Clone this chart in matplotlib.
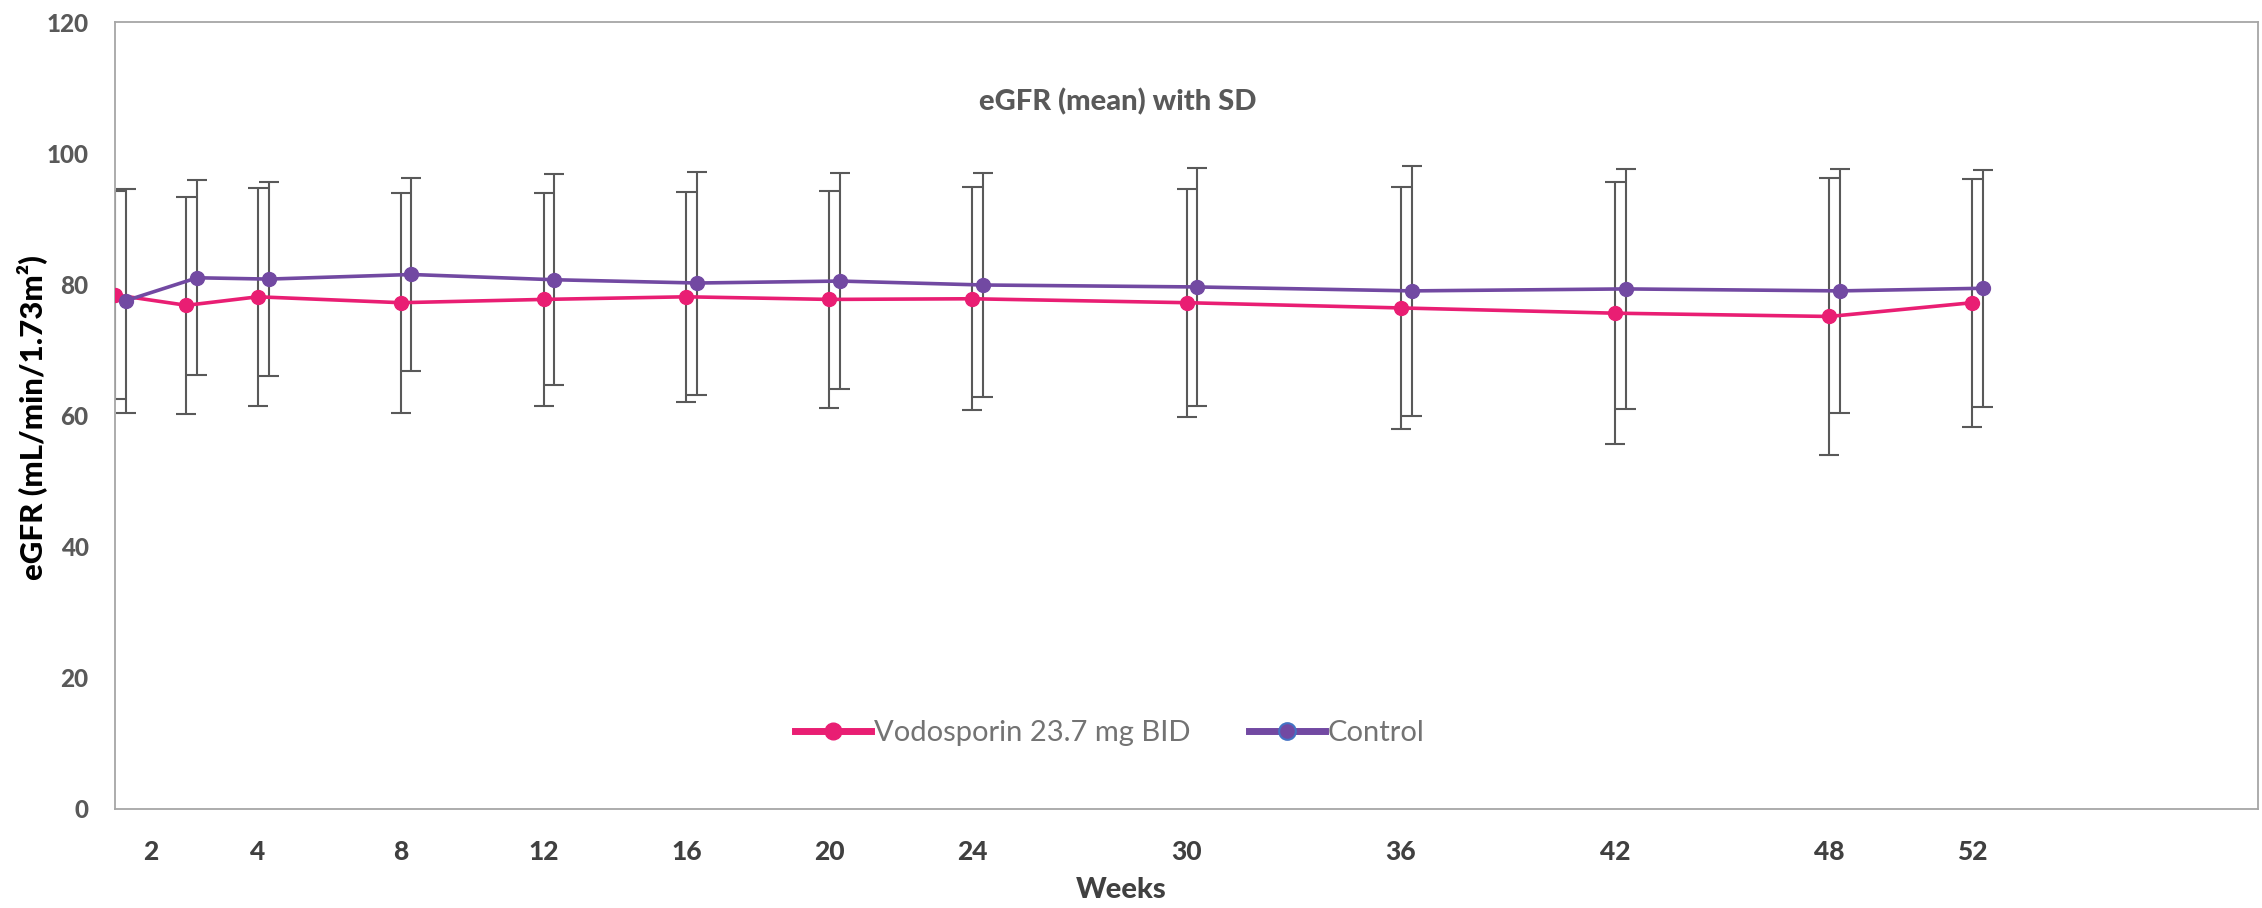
import matplotlib.pyplot as plt
from matplotlib.lines import Line2D

# Data
weeks = [0, 2, 4, 8, 12, 16, 20, 24, 30, 36, 42, 48, 52]
vclo_mean = [78.4, 76.8, 78.1, 77.2, 77.7, 78.1, 77.7, 77.8, 77.2, 76.4, 75.6, 75.1, 77.2]
vclo_sd = [15.9, 16.5, 16.6, 16.8, 16.3, 16.0, 16.5, 17.0, 17.4, 18.5, 20.0, 21.1, 18.9]
ctrl_mean = [77.5, 81.0, 80.8, 81.5, 80.7, 80.2, 80.5, 79.9, 79.6, 79.0, 79.3, 79.0, 79.4]
ctrl_sd = [17.1, 14.9, 14.8, 14.7, 16.1, 17.0, 16.4, 17.1, 18.2, 19.0, 18.3, 18.6, 18.1]

tick_pos = [1, 4, 8, 12, 16, 20, 24, 30, 36, 42, 48, 52]
tick_labels = ['2', '4', '8', '12', '16', '20', '24', '30', '36', '42', '48', '52']

# Colours / style
pink = '#E91E73'
purple = '#7249A2'
bar_col = '#595959'
ctrl_shift = 0.3  # control series drawn slightly to the right

plt.rcParams['font.family'] = ['Lato', 'DejaVu Sans']

fig = plt.figure(figsize=(22.62, 9.08), dpi=100)
ax = fig.add_axes([115 / 2262, 1 - 809 / 908, (2258 - 115) / 2262, (809 - 22) / 908])

ctrl_x = [w + ctrl_shift for w in weeks]

ax.errorbar(weeks, vclo_mean, yerr=vclo_sd, fmt='none', ecolor=bar_col,
            elinewidth=1.5, capsize=7.5, capthick=1.5, zorder=2)
ax.errorbar(ctrl_x, ctrl_mean, yerr=ctrl_sd, fmt='none', ecolor=bar_col,
            elinewidth=1.5, capsize=7.5, capthick=1.5, zorder=2)
ax.plot(weeks, vclo_mean, color=pink, lw=2.6, marker='o', ms=10, zorder=3)
ax.plot(ctrl_x, ctrl_mean, color=purple, lw=2.6, marker='o', ms=10, zorder=4)

ax.set_xlim(0, 60)
ax.set_ylim(0, 120)
ax.set_yticks(range(0, 121, 20))
ax.set_xticks(tick_pos)
ax.set_xticklabels(tick_labels)
ax.tick_params(axis='both', length=0)
ax.tick_params(axis='y', pad=19, labelsize=17.5, labelcolor='#595959')
ax.tick_params(axis='x', pad=22, labelsize=19, labelcolor='#404040')
for lab in ax.get_yticklabels() + ax.get_xticklabels():
    lab.set_fontweight('black')
for sp in ax.spines.values():
    sp.set_color('#A6A6A6')
    sp.set_linewidth(1.3)

fig.text(1118 / 2262, 1 - 102 / 908, 'eGFR (mean) with SD', ha='center', va='center',
         fontsize=21, fontweight='black', color='#595959')
fig.text(32 / 2262, 1 - 418 / 908, 'eGFR (mL/min/1.73m²)', rotation=90,
         ha='center', va='center', fontsize=22.5, fontweight='black', color='black')
fig.text(1121 / 2262, 1 - 890 / 908, 'Weeks', ha='center', va='center',
         fontsize=21, fontweight='black', color='#404040')

handles = [
    Line2D([], [], color=pink, lw=5, marker='o', ms=12),
    Line2D([], [], color=purple, lw=5, marker='o', ms=12, markeredgecolor='#4472C4',
           markeredgewidth=1.5),
]
ax.legend(handles, ['Vodosporin 23.7 mg BID', 'Control'], loc='center',
          bbox_to_anchor=((1110 - 115) / 2143, (809 - 733) / 787), ncol=2,
          frameon=False, fontsize=21, labelcolor='#737373', handlelength=2.6,
          handletextpad=0.1, columnspacing=2.0)

fig.savefig('out.png', dpi=100)
